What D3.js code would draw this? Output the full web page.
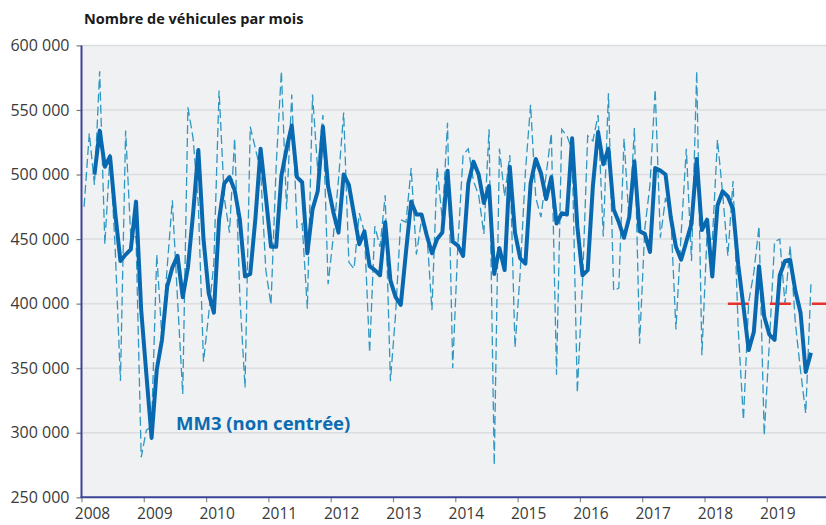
<!DOCTYPE html>
<html lang="fr">
<head>
<meta charset="utf-8">
<script src="https://cdn.jsdelivr.net/npm/d3@7"></script>
<style>
  body { margin: 0; background: #fff; }
  svg { display: block; font-family: 'Open Sans', sans-serif; }
</style>
</head>
<body>
<div id="graf"></div>
<script>
// Valeurs mensuelles (milliers de véhicules), janvier 2008 -> septembre 2019
const annees = [2008, 2009, 2010, 2011, 2012, 2013, 2014, 2015, 2016, 2017, 2018, 2019]
const mensuel = [
  475, 532, 492, 580, 446, 516, 442, 340, 534, 451, 452, 281,
  302, 305, 438, 373, 428, 480, 403, 330, 552, 528, 477, 355,
  392, 432, 565, 482, 455, 528, 405, 335, 537, 520, 503, 426,
  399, 507, 580, 473, 562, 459, 462, 396, 562, 503, 546, 415,
  452, 496, 548, 432, 427, 470, 455, 362, 460, 444, 484, 340,
  392, 465, 463, 505, 438, 465, 456, 395, 505, 465, 540, 350,
  446, 515, 520, 495, 484, 454, 535, 275, 520, 483, 515, 366,
  424, 502, 554, 482, 467, 500, 532, 345, 535, 530, 519, 331,
  416, 530, 526, 546, 452, 563, 410, 412, 528, 462, 536, 369,
  458, 492, 566, 451, 482, 469, 380, 454, 520, 433, 580, 360,
  455, 448, 527, 485, 437, 495, 380, 310, 401, 424, 460, 298,
  370, 448, 450, 400, 445, 385, 348, 315, 415
]
// MM3 (non centrée), à partir de mars 2008
const debutMM3 = 2
const mm3 = [
            500, 534, 506, 514, 470, 433, 438, 442, 479, 395,
  345, 296, 349, 372, 413, 428, 437, 405, 428, 470, 519, 450,
  408, 393, 465, 493, 498, 488, 465, 421, 423, 466, 520, 483,
  444, 444, 499, 520, 538, 498, 494, 439, 473, 487, 537, 491,
  471, 455, 500, 492, 469, 446, 456, 429, 426, 422, 463, 418,
  405, 399, 440, 479, 469, 469, 453, 439, 450, 455, 503, 448,
  445, 437, 493, 510, 500, 478, 491, 423, 443, 426, 506, 455,
  435, 431, 493, 512, 501, 481, 498, 462, 470, 469, 528, 460,
  422, 426, 491, 533, 508, 520, 473, 463, 451, 467, 510, 456,
  454, 440, 505, 503, 500, 467, 444, 434, 448, 462, 512, 457,
  465, 421, 476, 487, 483, 473, 430, 398, 364, 378, 429, 390,
  376, 372, 422, 433, 434, 410, 393, 347, 362
]
const yTicks = [250, 300, 350, 400, 450, 500, 550, 600]
const seuil = 400
const seuilDebut = 2018.375

const W = 826, H = 525
const margin = { top: 45.4, left: 81.5, right: 0, bottom: 27.7 }

svg = d3.select('#graf').append('svg')
  .attr('width', W)
  .attr('height', H)

x = d3.scaleLinear().domain([2008, 2020]).range([margin.left, margin.left + 12 * 62.3])
y = d3.scaleLinear().domain([250, 600]).range([H - margin.bottom, margin.top])

const t = i => annees[0] + (i + 0.5) / 12

svg.append('defs').append('clipPath').attr('id', 'clip')
  .append('rect')
  .attr('x', margin.left).attr('y', margin.top)
  .attr('width', W - margin.left).attr('height', y(250) - margin.top)

// fond
svg.append('rect')
  .attr('x', margin.left).attr('y', margin.top)
  .attr('width', W - margin.left).attr('height', y(250) - margin.top)
  .attr('fill', '#f0f1f3')

// grille
svg.append('g')
  .selectAll('line')
  .data(yTicks.slice(1))
  .enter().append('line')
    .attr('x1', margin.left).attr('x2', W)
    .attr('y1', d => y(d)).attr('y2', d => y(d))
    .attr('stroke', '#dcdde0')
    .attr('stroke-width', 1.5)

// axe Y
yAxis = svg.append('g')
  .attr('transform', `translate(${margin.left}, 0)`)
  .call(d3.axisLeft(y).tickValues(yTicks).tickSize(5).tickPadding(7)
    .tickFormat(d => d + ' 000'))
yAxis.select('.domain').remove()
yAxis.selectAll('line').attr('stroke', '#777').attr('stroke-width', 1.2)
yAxis.selectAll('text')
  .attr('font-size', 16)
  .attr('font-family', "'Open Sans', sans-serif")
  .attr('fill', '#3a3a3a')

// axe X
xAxis = svg.append('g')
  .attr('transform', `translate(0, ${y(250)})`)
  .call(d3.axisBottom(x).tickValues(annees).tickSize(5).tickPadding(6)
    .tickFormat(d3.format('d')))
xAxis.select('.domain').remove()
xAxis.selectAll('line').attr('stroke', '#888').attr('stroke-width', 1.2)
xAxis.selectAll('text')
  .attr('font-size', 15.5)
  .attr('font-family', "'Open Sans', sans-serif")
  .attr('fill', '#3a3a3a')
  .attr('dx', 10.5)

// lignes d'axe
svg.append('line')
  .attr('x1', margin.left).attr('x2', margin.left)
  .attr('y1', margin.top).attr('y2', y(250))
  .attr('stroke', '#3c4396').attr('stroke-width', 2)
svg.append('line')
  .attr('x1', margin.left - 1).attr('x2', W)
  .attr('y1', y(250)).attr('y2', y(250))
  .attr('stroke', '#3c4396').attr('stroke-width', 2)

plot = svg.append('g').attr('clip-path', 'url(#clip)')

// série mensuelle (pointillés)
ligneMois = d3.line().x((d, i) => x(t(i))).y(d => y(d))
plot.append('path')
  .attr('d', ligneMois(mensuel))
  .attr('fill', 'none')
  .attr('stroke', '#2e97c2')
  .attr('stroke-width', 1.3)
  .attr('stroke-dasharray', '9,4')

// seuil 400 000
plot.append('line')
  .attr('x1', x(seuilDebut)).attr('x2', W)
  .attr('y1', y(seuil)).attr('y2', y(seuil))
  .attr('stroke', '#e8302b')
  .attr('stroke-width', 2.5)
  .attr('stroke-dasharray', '21,21')

// MM3
ligneMM3 = d3.line().x((d, i) => x(t(i + debutMM3))).y(d => y(d))
plot.append('path')
  .attr('d', ligneMM3(mm3))
  .attr('fill', 'none')
  .attr('stroke', '#0868b0')
  .attr('stroke-width', 4)
  .attr('stroke-linejoin', 'round')

// textes
svg.append('text')
  .attr('x', 84).attr('y', 24)
  .attr('font-size', 14.5)
  .attr('font-weight', 'bold')
  .attr('fill', '#1a1a1a')
  .text('Nombre de véhicules par mois')

svg.append('text')
  .attr('x', 176).attr('y', 430)
  .attr('font-size', 18.5)
  .attr('font-weight', 'bold')
  .attr('fill', '#0b6cb0')
  .text('MM3 (non centrée)')
</script>
</body>
</html>
